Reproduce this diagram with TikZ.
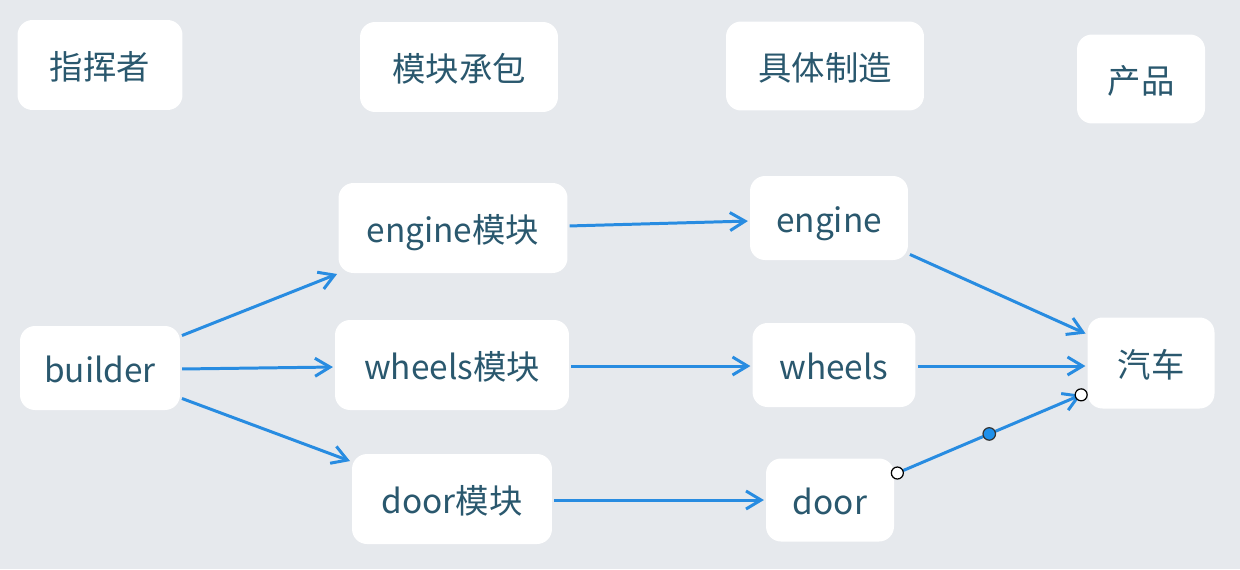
\documentclass[tikz,border=0pt]{standalone}
\usepackage{xcolor}
\usepackage{fontspec}
\setmainfont{Noto Sans CJK SC}
\usepackage{tikz}
\usetikzlibrary{arrows.meta,positioning,calc}
\definecolor{bgray}{RGB}{230,233,237}
\definecolor{txtteal}{RGB}{42,88,110}
\definecolor{lineblue}{RGB}{40,140,225}
\definecolor{dotblue}{RGB}{30,144,235}

\begin{document}
\begin{tikzpicture}[
    x=0.02cm, y=-0.02cm,
    box/.style={rectangle, fill=white, rounded corners=0.3cm, align=center, inner sep=0pt, minimum height=1.8cm, text height=0.76cm, text depth=0.2cm, text=txtteal, font=\fontsize{19}{22}\selectfont},
    arrow/.style={-{Straight Barb[length=0.3cm,width=0.36cm]}, line width=1.7pt, draw=lineblue, shorten >=1pt, shorten <=1pt},
    endpt/.style={circle, draw=black, fill=white, line width=0.7pt, inner sep=0pt, minimum size=0.24cm},
    midpt/.style={circle, draw=black!80, fill=dotblue, line width=0.7pt, inner sep=0pt, minimum size=0.25cm}
]
    \fill[bgray] (0,0) rectangle (1240,569);
    \useasboundingbox (0,0) rectangle (1240,569);

    % column headers
    \node[box, minimum width=3.3cm] (director) at (100,65) {指挥者};
    \node[box, minimum width=3.96cm] (contract) at (459,67) {模块承包};
    \node[box, minimum width=3.96cm, minimum height=1.78cm] (make) at (825,66) {具体制造};
    \node[box, minimum width=2.56cm, minimum height=1.78cm] (product) at (1141,79) {产品};

    % builder and modules
    \node[box, minimum width=3.2cm, minimum height=1.68cm] (builder) at (100,368) {builder};
    \node[box, minimum width=4.58cm] (enginemod) at (453,228) {engine模块};
    \node[box, minimum width=4.68cm] (wheelsmod) at (452,365) {wheels模块};
    \node[box, minimum width=4.0cm] (doormod) at (452,499) {door模块};

    % parts
    \node[box, minimum width=3.16cm, minimum height=1.68cm] (engine) at (829,218) {engine};
    \node[box, minimum width=3.26cm, minimum height=1.68cm] (wheels) at (834,365) {wheels};
    \node[box, minimum width=2.56cm, minimum height=1.66cm] (door) at (830,500) {door};
    \node[box, minimum width=2.54cm, minimum height=1.82cm] (car) at (1151,363) {汽车};

    \draw[arrow] (builder) -- (enginemod);
    \draw[arrow] (builder.east |- 0,369) -- (wheelsmod.west |- 0,367);
    \draw[arrow] (builder) -- (doormod);

    \draw[arrow] (enginemod.east |- 0,226) -- (engine.west |- 0,221);
    \draw[arrow] (wheelsmod.east |- 0,366) -- (wheels.west |- 0,366);
    \draw[arrow] (doormod.east |- 0,500) -- (door.west |- 0,500);

    \draw[arrow] (engine) -- (car);
    \draw[arrow] (wheels.east |- 0,366) -- (car.west |- 0,366);

    % selected connector
    \coordinate (doorout) at ($(door.east)+(3,-27)$);
    \coordinate (carin) at ($(car.south west)+(-6,-14)$);
    \draw[arrow, shorten >=0pt, shorten <=0pt] (doorout) -- node[midpt] (handle) {} (carin);
    \node[endpt] (dooroutpt) at (doorout) {};
    \node[endpt] (carinpt) at (carin) {};
\end{tikzpicture}
\end{document}
